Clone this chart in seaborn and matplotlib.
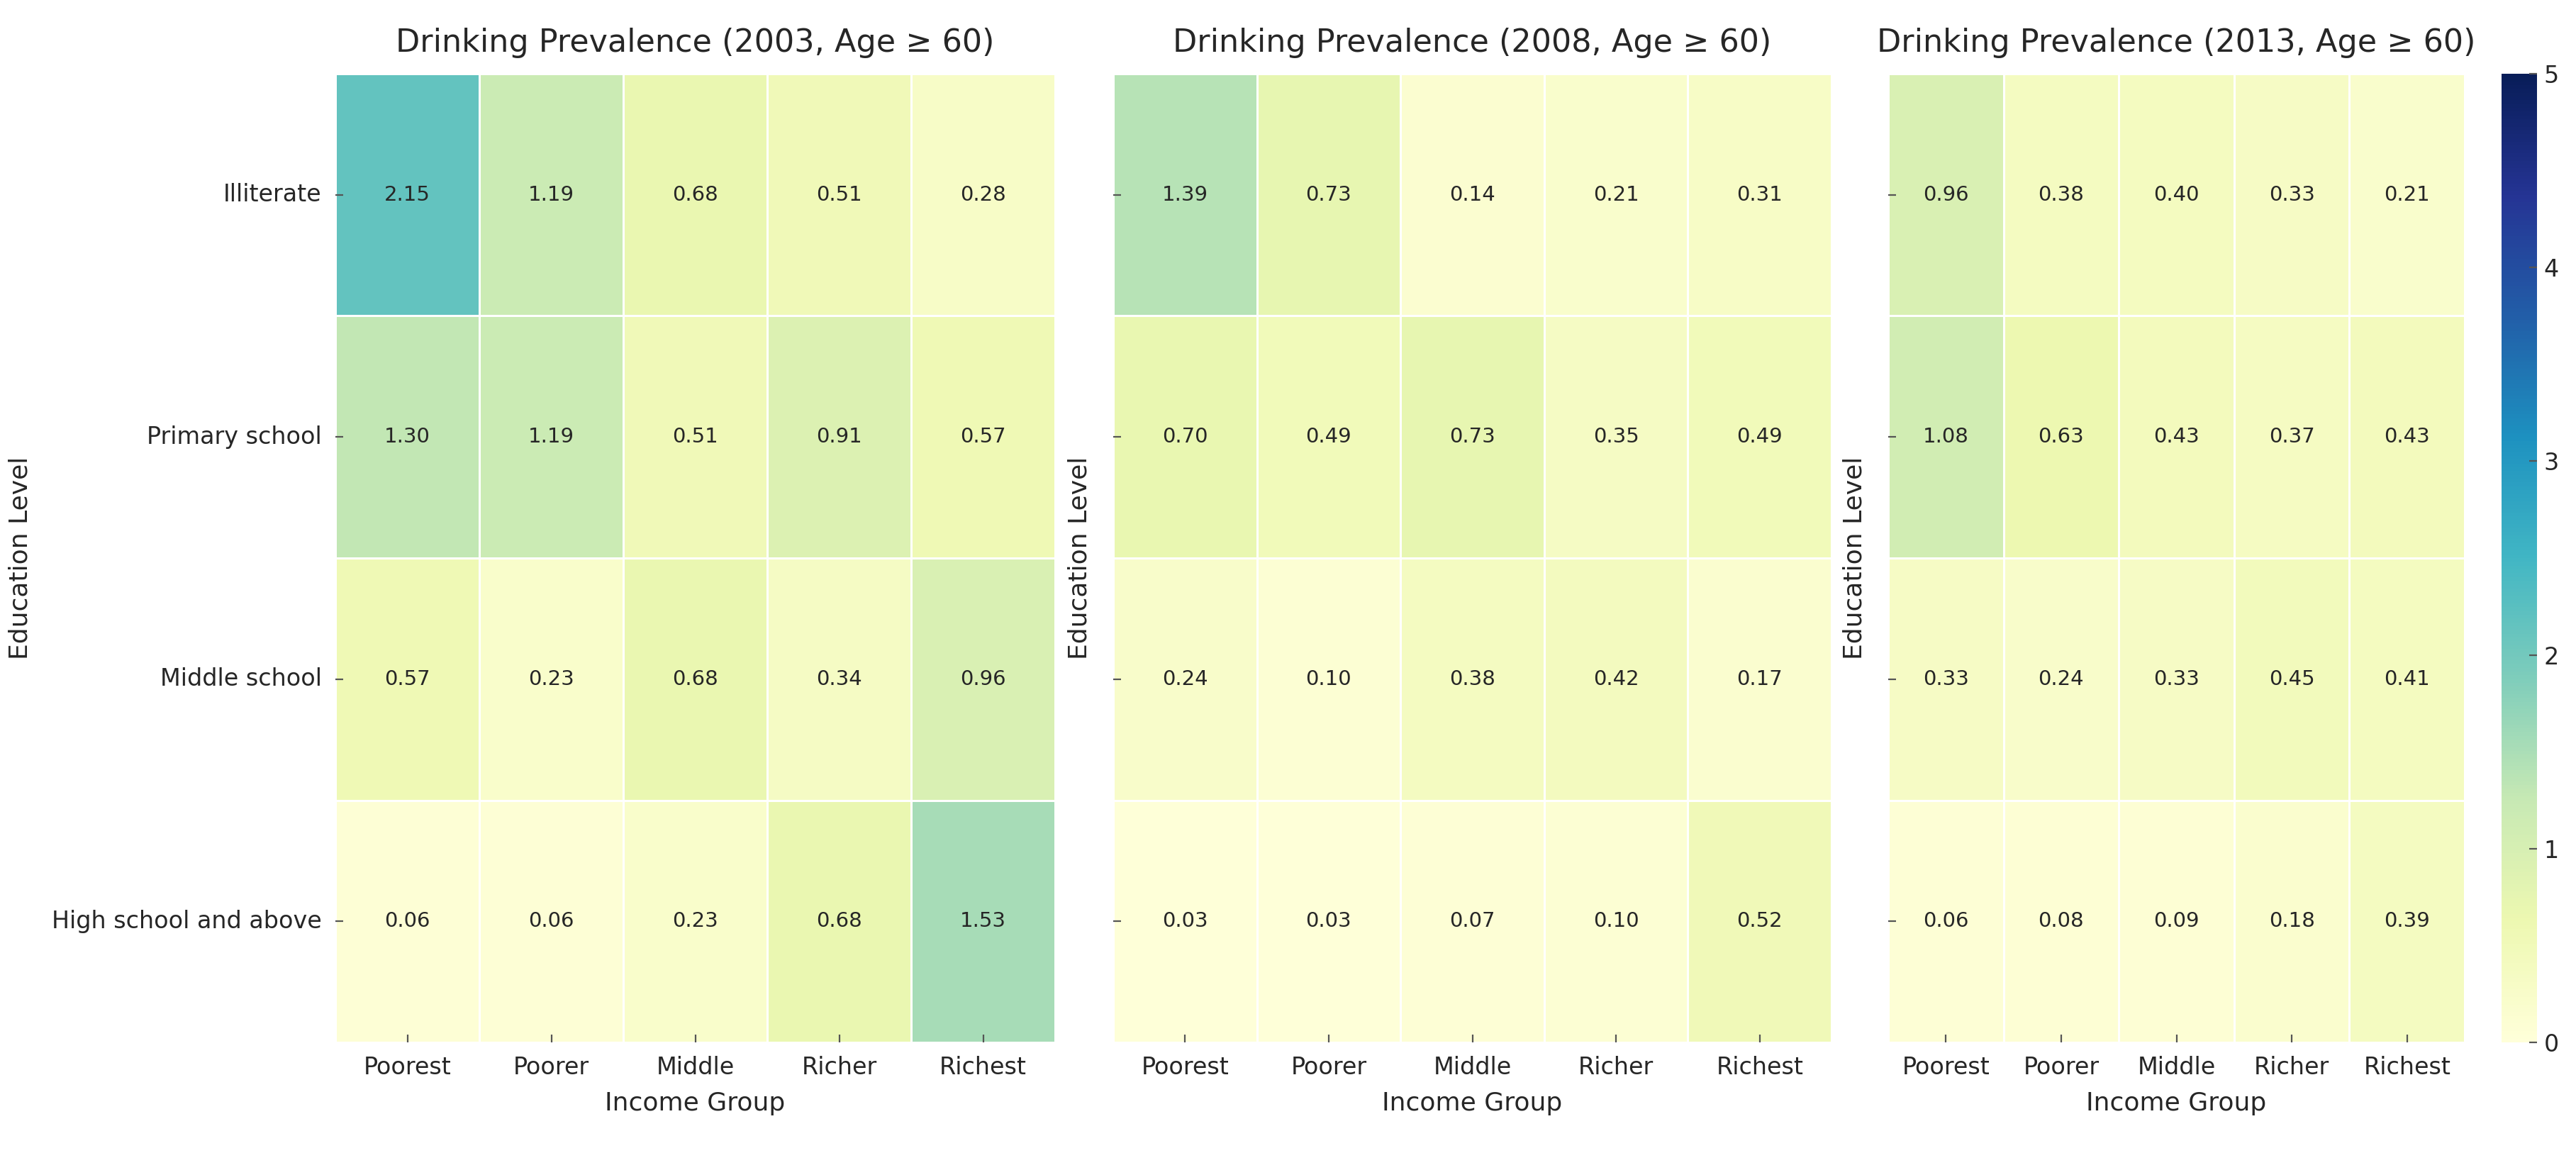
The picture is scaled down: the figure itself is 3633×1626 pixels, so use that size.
import numpy as np
import pandas as pd
import matplotlib
matplotlib.use("Agg")
import matplotlib.pyplot as plt
import seaborn as sns

education = ["Illiterate", "Primary school", "Middle school", "High school and above"]
income = ["Poorest", "Poorer", "Middle", "Richer", "Richest"]
years = ["2003", "2008", "2013"]

vals_2003 = [
    [2.15, 1.19, 0.68, 0.51, 0.28],
    [1.30, 1.19, 0.51, 0.91, 0.57],
    [0.57, 0.23, 0.68, 0.34, 0.96],
    [0.06, 0.06, 0.23, 0.68, 1.53],
]
vals_2008 = [
    [1.39, 0.73, 0.14, 0.21, 0.31],
    [0.70, 0.49, 0.73, 0.35, 0.49],
    [0.24, 0.10, 0.38, 0.42, 0.17],
    [0.03, 0.03, 0.07, 0.10, 0.52],
]
vals_2013 = [
    [0.96, 0.38, 0.40, 0.33, 0.21],
    [1.08, 0.63, 0.43, 0.37, 0.43],
    [0.33, 0.24, 0.33, 0.45, 0.41],
    [0.06, 0.08, 0.09, 0.18, 0.39],
]
all_vals = [vals_2003, vals_2008, vals_2013]

plt.rcParams["font.family"] = ["DejaVu Sans"]
plt.rcParams["axes.axisbelow"] = False

W, H = 3633, 1626
fig = plt.figure(figsize=(W / 200, H / 200), dpi=200)

def rect(x0, x1, y0=104, y1=1470):
    return [x0 / W, 1 - y1 / H, (x1 - x0) / W, (y1 - y0) / H]

axes = [
    fig.add_axes(rect(473, 1488)),
    fig.add_axes(rect(1570, 2583)),
    fig.add_axes(rect(2663, 3476)),
]
cax = fig.add_axes(rect(3528, 3578))

for i, (ax, yr, v) in enumerate(zip(axes, years, all_vals)):
    df = pd.DataFrame(v, index=education, columns=income)
    sns.heatmap(
        df, ax=ax, cmap="YlGnBu", vmin=0, vmax=5,
        annot=True, fmt=".2f", annot_kws={"size": 10.5, "color": "#262626"},
        linewidths=1, linecolor="white",
        cbar=(i == 2), cbar_ax=cax if i == 2 else None,
        yticklabels=(i == 0),
    )
    ax.set_title(f"Drinking Prevalence ({yr}, Age \u2265 60)", fontsize=16, pad=11, color="#262626")
    ax.set_xlabel("Income Group", fontsize=13, color="#262626", labelpad=6)
    ax.set_ylabel("Education Level", fontsize=13, color="#262626",
                  labelpad=(10 if i == 0 else 4))
    ax.tick_params(axis="both", direction="in", length=4, width=0.8, color="#555555",
                   labelsize=12, labelcolor="#262626", pad=7)
    if i != 0:
        ax.set_yticks(np.arange(len(education)) + 0.5)
        ax.set_yticklabels([])
    ax.tick_params(axis="x", labelrotation=0)
    ax.tick_params(axis="y", labelrotation=0)

cax.tick_params(direction="in", length=4, width=0.8, color="#555555", labelsize=12, labelcolor="#262626")
cax.set_yticks([0, 1, 2, 3, 4, 5])

fig.savefig("out.png", dpi=200, facecolor="white")
